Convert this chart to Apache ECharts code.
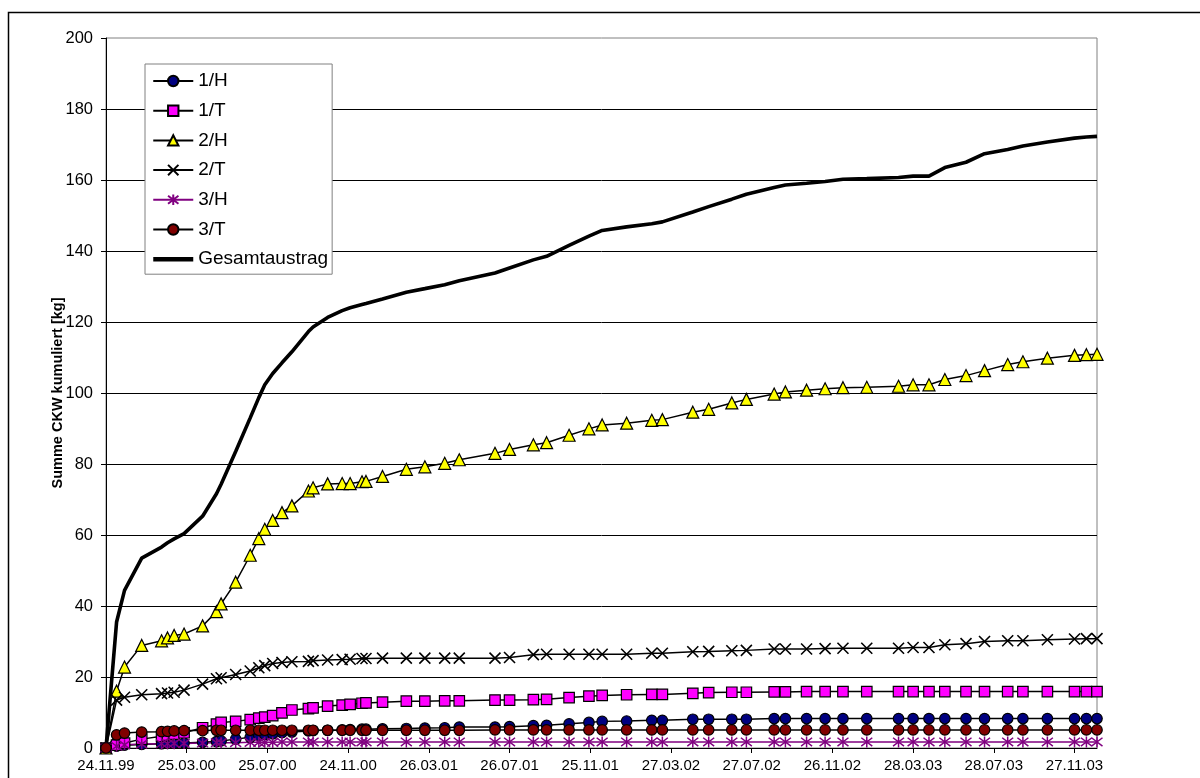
<!DOCTYPE html>
<html><head><meta charset="utf-8">
<script src="https://cdn.jsdelivr.net/npm/echarts@6/dist/echarts.min.js"></script>
<style>html,body{margin:0;padding:0;background:#fff}#c{width:1200px;height:778px}</style>
</head><body><div id="c"></div>
<script>
// Sampling dates (dd.mm.yy)
const sampleDates = ['24.11.99','10.12.99','22.12.99','17.01.00','16.02.00','25.02.00','06.03.00','21.03.00','18.04.00','09.05.00',
  '16.05.00','07.06.00','29.06.00','12.07.00','21.07.00','02.08.00','16.08.00','31.08.00','25.09.00','02.10.00',
  '24.10.00','15.11.00','27.11.00','15.12.00','21.12.00','15.01.01','20.02.01','20.03.01','19.04.01','11.05.01',
  '04.07.01','26.07.01','31.08.01','20.09.01','24.10.01','23.11.01','13.12.01','19.01.02','26.02.02','14.03.02',
  '29.04.02','23.05.02','27.06.02','19.07.02','30.08.02','16.09.02','18.10.02','15.11.02','12.12.02','17.01.03',
  '06.03.03','28.03.03','21.04.03','15.05.03','16.06.03','14.07.03','18.08.03','10.09.03','17.10.03','27.11.03',
  '15.12.03','31.12.03'];
const xTickLabels = ['24.11.99','25.03.00','25.07.00','24.11.00','26.03.01','26.07.01','25.11.01','27.03.02','27.07.02','26.11.02','28.03.03','28.07.03','27.11.03'];
const seriesNames = ['1/H','1/T','2/H','2/T','3/H','3/T','Gesamtaustrag'];

const s1H = [0,0.5,0.8,1.0,1.2,1.3,1.3,1.4,1.6,1.8, 2.0,2.5,3.0,3.5,3.8,4.0,4.3,4.5,4.8,4.9,
  5.0,5.1,5.2,5.3,5.3,5.4,5.5,5.6,5.7,5.9, 5.9,6.0,6.3,6.4,6.8,7.2,7.5,7.6,7.8,7.8,
  8.1,8.1,8.1,8.1,8.3,8.3,8.3,8.3,8.3,8.3, 8.3,8.3,8.3,8.3,8.3,8.3,8.3,8.3,8.3,8.3, 8.3,8.3];
const s1T = [0,0.8,1.4,2.5,3.3,3.6,3.9,4.3,5.7,6.7, 7.2,7.5,8.0,8.4,8.7,9.1,9.9,10.7,11.1,11.3,
  11.8,12.1,12.3,12.6,12.7,12.9,13.2,13.2,13.3,13.3, 13.5,13.5,13.6,13.7,14.2,14.6,14.8,15.0,15.1,15.1,
  15.4,15.6,15.7,15.7,15.8,15.8,15.9,15.9,15.9,15.9, 15.9,15.9,15.9,15.9,15.9,15.9,15.9,15.9,15.9,15.9, 15.9,15.9];
const s2H = [0,16,22.8,28.9,30.2,31,31.7,32.1,34.4,38.4, 40.6,46.7,54.3,59,61.6,64.1,66.3,68.2,72.4,73.3,
  74.4,74.5,74.5,75,75.1,76.5,78.5,79.2,80.2,81.2, 83.0,84.1,85.4,86.0,88.1,89.9,91.0,91.5,92.3,92.5,
  94.6,95.4,97.2,98.2,99.7,100.3,100.8,101.2,101.5,101.6, 101.9,102.3,102.3,103.8,104.9,106.3,108.0,108.8,109.8,110.6, 110.8,110.9];
const s2T = [0,13.5,14.3,15.0,15.3,15.5,15.7,16.3,18.0,19.5, 19.8,20.7,21.7,22.6,23.2,23.8,24.1,24.3,24.4,24.6,
  24.8,24.9,25.0,25.2,25.2,25.3,25.3,25.3,25.3,25.3, 25.3,25.5,26.3,26.4,26.4,26.4,26.4,26.4,26.7,26.7,
  27.1,27.2,27.4,27.5,27.9,27.9,27.9,28.0,28.1,28.1, 28.1,28.3,28.3,29.1,29.4,30.0,30.2,30.2,30.5,30.7, 30.8,30.8];
const s3H = [0,0.5,0.9,1.1,1.2,1.2,1.3,1.3,1.4,1.5, 1.5,1.5,1.6,1.6,1.6,1.6,1.7,1.7,1.7,1.7,
  1.7,1.7,1.7,1.7,1.7,1.7,1.7,1.7,1.7,1.7, 1.7,1.7,1.7,1.7,1.7,1.7,1.7,1.7,1.7,1.7,
  1.7,1.7,1.7,1.7,1.7,1.7,1.7,1.7,1.7,1.7, 1.7,1.7,1.7,1.7,1.7,1.7,1.7,1.7,1.7,1.7, 1.7,1.7];
const s3T = [0,3.7,4.2,4.5,4.6,4.7,4.8,4.9,4.9,5.0, 5.0,5.0,5.0,5.0,5.0,5.0,5.0,5.0,5.0,5.0,
  5.0,5.0,5.0,5.0,5.0,5.0,5.0,5.0,5.0,5.0, 5.1,5.1,5.1,5.1,5.1,5.1,5.1,5.1,5.1,5.1,
  5.1,5.1,5.1,5.1,5.1,5.1,5.1,5.1,5.1,5.1, 5.1,5.1,5.1,5.1,5.1,5.1,5.1,5.1,5.1,5.1, 5.1,5.1];
const sTotal = [0,35.5,44.4,53.5,56.6,57.8,58.9,60.4,65.3,71.6, 74.3,83.5,93,98.7,102.3,105.5,108.5,111.6,117.3,118.6,
  121.3,123.2,124,124.9,125.2,126.5,128.4,129.4,130.5,131.6, 133.8,135.2,137.5,138.5,141.6,144.2,145.8,146.8,147.7,148.2,
  151,152.5,154.6,156,157.9,158.6,159.1,159.6,160.2,160.4, 160.7,161.1,161.1,163.5,165,167.4,168.6,169.6,170.7,171.8, 172.1,172.3];

const FONT = '"Liberation Sans", Arial, sans-serif';
function parseDate(s){const p=s.split('.').map(Number);return Date.UTC(p[2]<50?2000+p[2]:1900+p[2],p[1]-1,p[0]);}
const t0 = parseDate(sampleDates[0]);
const toDays = s => Math.round((parseDate(s)-t0)/86400000);
const days = sampleDates.map(toDays);
const tickDays = xTickLabels.map(toDays);

function pts(vals){return days.map((d,i)=>[d,vals[i]]);}
function mk(name, vals, symbol, size, fill, stroke, bw, lineColor, lw){
  return {name, type:'line', data: pts(vals), symbol, symbolSize:size, showSymbol: size>0,
    itemStyle:{color:fill, borderColor:stroke, borderWidth:bw},
    lineStyle:{color:lineColor, width:lw}, emphasis:{disabled:true}, animation:false, z:2};
}
const crossPath = 'path://M0,0L10,10M10,0L0,10';
const starPath = 'path://M0,0L10,10M10,0L0,10M5,-1.5L5,11.5';

const chart = echarts.init(document.getElementById('c'), null, {renderer:'canvas'});
chart.setOption({
  animation:false,
  backgroundColor:'#fff',
  textStyle:{fontFamily:FONT, color:'#000'},
  grid:{left:106, right:103, top:38, bottom:30, show:true, borderColor:'#808080', borderWidth:1},
  xAxis:{type:'value', min:0, max:days[days.length-1], interval:122,
    axisLine:{lineStyle:{color:'#000', width:1}},
    axisTick:{customValues:tickDays, length:5, lineStyle:{color:'#000'}},
    axisLabel:{customValues:tickDays, formatter:v=>xTickLabels[tickDays.indexOf(v)], fontSize:15, color:'#000', margin:10, fontFamily:FONT},
    splitLine:{show:false}},
  yAxis:{type:'value', min:0, max:200, interval:20,
    name:'Summe CKW kumuliert [kg]', nameLocation:'middle', nameGap:41, nameMoveOverlap:false,
    nameTextStyle:{fontWeight:'bold', fontSize:14.5, color:'#000', fontFamily:FONT},
    axisLine:{show:true, lineStyle:{color:'#000', width:1}},
    axisTick:{show:true, length:5, lineStyle:{color:'#000'}},
    axisLabel:{fontSize:16.5, color:'#000', margin:13, fontFamily:FONT},
    splitLine:{show:true, showMaxLine:false, lineStyle:{color:'#000', width:1}}},
  legend:{orient:'vertical', left:145, top:64, padding:[7,4,5,6], itemWidth:40, itemHeight:13, itemGap:9.7,
    backgroundColor:'#fff', borderColor:'#808080', borderWidth:1, selectedMode:false,
    textStyle:{fontSize:19, color:'#000', lineHeight:20, fontFamily:FONT},
    data:seriesNames.map((n,i)=> i===6 ? {name:n, lineStyle:{width:4.5, color:'#000'}} : {name:n})},
  series:[
    mk(seriesNames[0], s1H, 'circle', 10.5, '#000080', '#000', 1.2, '#000', 1.5),
    mk(seriesNames[1], s1T, 'rect', 10.5, '#FF00FF', '#000', 1.2, '#000', 1.5),
    mk(seriesNames[2], s2H, 'triangle', 12, '#FFFF00', '#000', 1.2, '#000', 1.5),
    mk(seriesNames[3], s2T, crossPath, 11, '#000', '#000', 1.6, '#000', 1.5),
    mk(seriesNames[4], s3H, starPath, 11, '#800080', '#800080', 1.5, '#800080', 1.5),
    mk(seriesNames[5], s3T, 'circle', 10.5, '#800000', '#000', 1.2, '#000', 1.5),
    mk(seriesNames[6], sTotal, 'circle', 0, 'rgba(0,0,0,0)', 'rgba(0,0,0,0)', 0, '#000', 3.6)
  ],
  graphic:[{type:'rect', silent:true, z:100, shape:{x:8.5, y:12.5, width:1250, height:820}, style:{fill:'none', stroke:'#000', lineWidth:1.5}}]
});
</script></body></html>
